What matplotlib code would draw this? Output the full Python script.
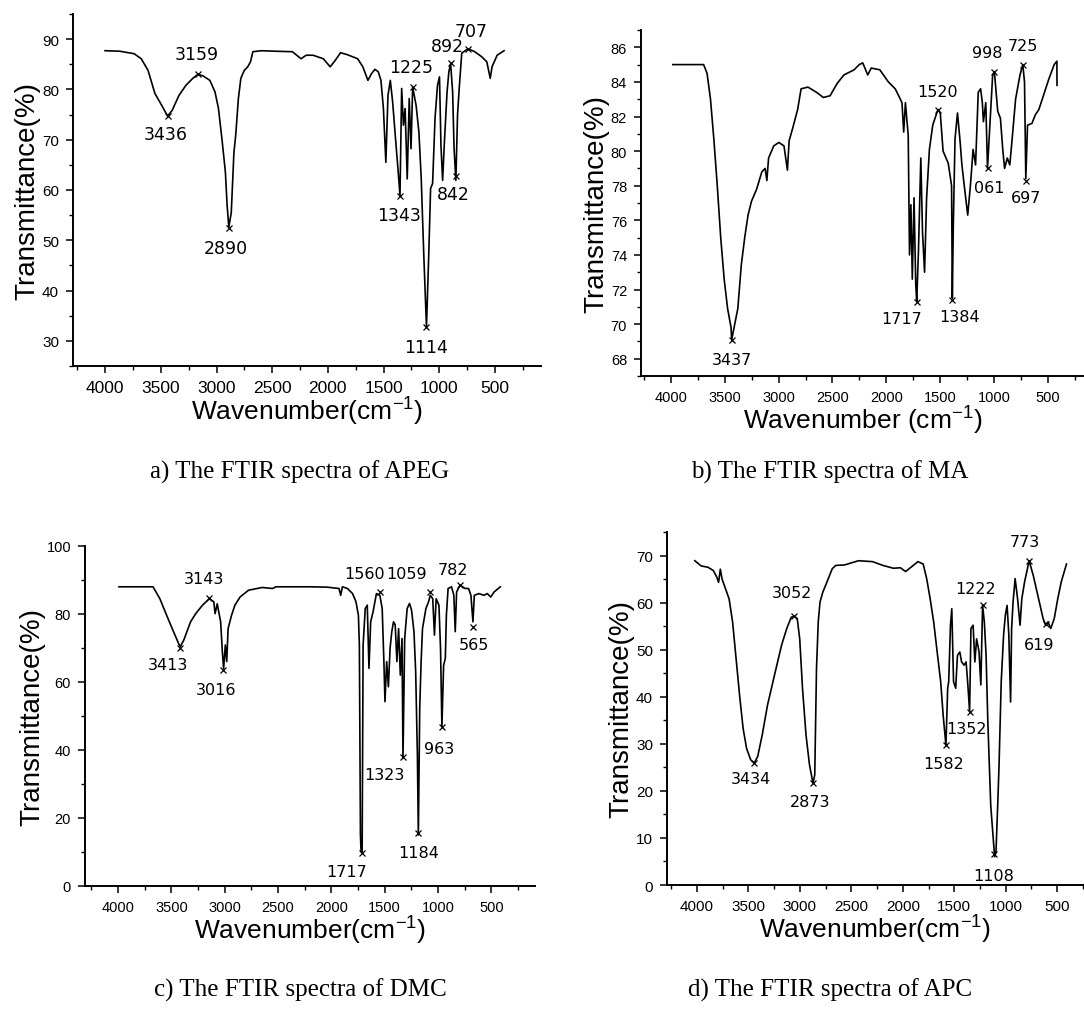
import matplotlib
matplotlib.use("Agg")
import matplotlib.pyplot as plt
from matplotlib.ticker import MultipleLocator

plt.rcParams["font.family"] = ["Liberation Sans", "DejaVu Sans"]
plt.rcParams["mathtext.fontset"] = "custom"
plt.rcParams["mathtext.rm"] = "Liberation Sans"
plt.rcParams["mathtext.default"] = "regular"

# ---- a) APEG spectrum (wavenumber cm-1, transmittance %)
apeg_wn = [4002, 3870, 3740, 3677, 3616, 3554, 3492, 3440, 3400, 3338, 3276, 3214,
           3168, 3122, 3060, 3014, 2983, 2952, 2921, 2905, 2890, 2868, 2844, 2828,
           2804, 2782, 2751, 2720, 2695, 2674, 2597, 2473, 2319, 2241, 2195, 2133,
           2041, 1979, 1933, 1886, 1824, 1732, 1686, 1640, 1609, 1578, 1547, 1523,
           1501, 1479, 1460, 1439, 1418, 1392, 1368, 1352, 1337, 1321, 1306, 1287,
           1269, 1253, 1238, 1207, 1182, 1161, 1139, 1114, 1093, 1077, 1059, 1037,
           1015, 997, 984, 969, 953, 929, 913, 897, 879, 866, 850, 835, 819, 797,
           742, 680, 618, 572, 541, 525, 479, 417]
apeg_t = [87.7, 87.6, 87.1, 86.1, 83.8, 79.2, 76.8, 74.7, 75.8, 78.8, 80.8, 82.2,
          83.0, 82.7, 81.8, 79.5, 76.2, 70.2, 63.6, 56.9, 52.6, 55.5, 67.5, 70.9,
          78.2, 82.2, 83.8, 84.5, 85.5, 87.5, 87.7, 87.6, 87.5, 86.1, 86.8, 86.8,
          86.1, 84.5, 85.8, 87.3, 86.9, 86.1, 84.5, 81.8, 83.1, 84.0, 83.5, 81.8,
          76.2, 65.5, 78.8, 81.8, 77.5, 70.2, 63.6, 58.9, 80.2, 72.9, 76.2, 62.2,
          78.2, 68.2, 80.5, 76.8, 71.5, 62.2, 47.6, 32.7, 47.6, 60.3, 61.3, 74.3,
          80.8, 82.5, 68.9, 61.9, 69.5, 79.5, 83.5, 85.1, 79.5, 68.2, 61.9, 74.9,
          80.5, 87.2, 88.1, 87.5, 86.5, 85.5, 82.2, 84.5, 86.8, 87.7]
apeg_labels = ["3436", "3159", "2890", "1343", "1225", "1114", "892", "842", "707"]
apeg_pk_wn = [3436, 3168, 2890, 1352, 1238, 1114, 897, 850, 742]
apeg_pk_t = [74.7, 83.0, 52.4, 58.9, 80.5, 32.7, 85.3, 62.8, 88.1]

# ---- b) MA spectrum
ma_wn = [3984, 3698, 3666, 3634, 3603, 3571, 3539, 3507, 3475, 3443, 3437, 3380,
         3348, 3316, 3285, 3253, 3205, 3157, 3126, 3110, 3094, 3046, 2999, 2951,
         2919, 2903, 2871, 2824, 2792, 2728, 2649, 2585, 2522, 2458, 2394, 2299,
         2251, 2219, 2172, 2140, 2060, 1981, 1917, 1885, 1854, 1838, 1822, 1796,
         1784, 1771, 1758, 1742, 1726, 1717, 1701, 1679, 1663, 1644, 1625, 1599,
         1568, 1520, 1498, 1472, 1424, 1393, 1386, 1377, 1361, 1338, 1313, 1297,
         1275, 1243, 1218, 1193, 1170, 1145, 1123, 1107, 1097, 1075, 1059, 1037,
         1011, 995, 964, 939, 916, 900, 875, 852, 830, 798, 757, 731, 715, 703,
         687, 646, 614, 582, 550, 487, 439, 414, 413]
ma_t = [85.0, 85.0, 84.5, 83.0, 80.7, 78.0, 75.0, 72.6, 70.9, 69.8, 69.1, 70.9,
        73.4, 75.0, 76.3, 77.1, 77.8, 78.8, 79.0, 78.3, 79.6, 80.3, 80.5, 80.3,
        78.9, 80.6, 81.3, 82.4, 83.6, 83.7, 83.4, 83.1, 83.2, 83.9, 84.4, 84.7,
        85.0, 85.1, 84.4, 84.8, 84.7, 84.0, 83.6, 83.2, 82.8, 81.1, 82.8, 80.9,
        74.0, 76.9, 72.6, 77.3, 72.3, 71.3, 74.2, 79.6, 75.3, 73.0, 77.3, 80.1,
        81.5, 82.4, 82.2, 80.0, 79.3, 78.0, 71.5, 75.7, 80.7, 82.2, 80.5, 79.2,
        78.0, 76.3, 78.0, 80.1, 79.2, 83.4, 83.6, 82.8, 81.7, 82.8, 79.0, 81.5,
        84.4, 84.6, 82.3, 81.9, 80.0, 79.0, 79.6, 79.2, 80.7, 83.0, 84.4, 85.0,
        84.0, 78.4, 81.5, 81.6, 82.1, 82.4, 83.0, 84.2, 85.0, 85.2, 83.8]
ma_labels = ["3437", "1717", "1384", "1520", "061", "998", "725", "697"]
ma_pk_wn = [3437, 1717, 1393, 1520, 1059, 995, 731, 703]
ma_pk_t = [69.1, 71.3, 71.4, 82.4, 79.0, 84.6, 85.0, 78.3]

# ---- c) DMC spectrum
dmc_wn = [3991, 3672, 3608, 3544, 3480, 3432, 3416, 3384, 3320, 3272, 3208, 3144,
          3102, 3090, 3070, 3038, 3022, 3010, 2994, 2981, 2968, 2936, 2904, 2856,
          2776, 2648, 2552, 2520, 2200, 2040, 1928, 1912, 1896, 1849, 1801, 1769,
          1746, 1737, 1727, 1721, 1711, 1702, 1682, 1663, 1647, 1631, 1609, 1577,
          1545, 1523, 1507, 1497, 1481, 1465, 1449, 1433, 1417, 1401, 1385, 1369,
          1353, 1337, 1328, 1312, 1289, 1267, 1248, 1225, 1209, 1193, 1184, 1171,
          1158, 1145, 1113, 1088, 1072, 1049, 1033, 1017, 991, 976, 963, 947, 931,
          921, 905, 873, 851, 838, 825, 793, 745, 713, 691, 672, 659, 617, 569,
          537, 505, 473, 415]
dmc_t = [88.0, 88.0, 84.5, 79.6, 74.8, 71.3, 70.4, 72.3, 77.7, 80.1, 82.6, 84.5,
         83.6, 80.1, 83.0, 77.7, 68.9, 64.0, 70.9, 66.0, 75.7, 79.6, 82.6, 85.0,
         87.0, 87.8, 87.5, 88.0, 88.0, 87.9, 87.5, 85.5, 88.0, 87.5, 86.0, 83.6,
         79.6, 70.8, 15.0, 10.0, 10.0, 70.8, 81.6, 82.6, 64.0, 77.7, 80.6, 86.0,
         85.5, 81.6, 66.0, 54.2, 66.0, 58.6, 69.9, 74.8, 77.7, 76.8, 66.0, 75.7,
         62.0, 72.8, 37.6, 72.8, 81.6, 83.1, 81.2, 74.8, 63.0, 38.6, 15.0, 52.3,
         66.0, 75.7, 81.6, 83.6, 85.5, 84.5, 73.8, 84.5, 82.6, 69.9, 46.9, 64.9,
         66.9, 79.6, 87.5, 88.0, 85.5, 74.8, 86.5, 88.5, 87.5, 87.5, 85.5, 77.7,
         85.5, 86.0, 85.5, 86.0, 85.0, 86.5, 88.0]
dmc_labels = ["3413", "3143", "3016", "1717", "1560", "1323", "1184", "1059",
              "963", "782", "565"]
dmc_pk_wn = [3416, 3144, 3016, 1716, 1545, 1328, 1184, 1072, 963, 793, 672]
dmc_pk_t = [70.1, 84.7, 63.5, 9.6, 86.5, 37.8, 15.7, 86.5, 46.9, 88.5, 76.2]

# ---- d) APC spectrum
apc_wn = [4020, 3959, 3891, 3840, 3806, 3789, 3772, 3755, 3721, 3687, 3653, 3619,
          3585, 3551, 3517, 3477, 3443, 3409, 3365, 3314, 3246, 3178, 3127, 3083,
          3052, 3025, 3001, 2974, 2940, 2906, 2872, 2855, 2838, 2821, 2804, 2777,
          2736, 2685, 2651, 2566, 2430, 2294, 2193, 2091, 2023, 1972, 1921, 1853,
          1802, 1768, 1734, 1700, 1666, 1632, 1608, 1581, 1564, 1554, 1537, 1524,
          1507, 1486, 1469, 1446, 1429, 1405, 1385, 1368, 1351, 1338, 1317, 1300,
          1283, 1259, 1242, 1225, 1208, 1191, 1174, 1146, 1129, 1108, 1095, 1078,
          1065, 1044, 1021, 1004, 987, 970, 953, 943, 929, 909, 885, 861, 844,
          817, 773, 732, 681, 637, 613, 590, 563, 529, 495, 461, 410]
apc_t = [68.9, 67.8, 67.5, 66.8, 65.4, 64.3, 67.1, 65.0, 62.9, 60.8, 55.9, 48.1,
         40.3, 33.3, 29.0, 26.6, 25.9, 27.3, 31.9, 38.2, 44.6, 50.9, 54.5, 56.9,
         57.1, 56.6, 52.3, 41.8, 31.9, 25.5, 21.6, 23.4, 46.0, 55.9, 60.1, 62.2,
         64.4, 67.2, 67.9, 68.0, 68.9, 68.7, 67.9, 67.3, 67.4, 66.6, 67.5, 68.7,
         68.2, 65.1, 60.8, 55.9, 49.5, 43.2, 36.1, 29.7, 41.8, 43.2, 55.2, 58.7,
         43.2, 41.8, 48.8, 49.5, 47.4, 46.7, 47.4, 42.5, 36.8, 54.5, 55.2, 47.4,
         52.3, 49.5, 42.5, 59.4, 55.9, 48.8, 34.7, 17.0, 12.0, 6.0, 7.0, 17.0,
         25.5, 43.2, 53.1, 57.3, 59.4, 53.1, 38.9, 54.5, 60.1, 65.1, 60.8, 55.2,
         60.8, 64.4, 68.9, 65.7, 60.8, 56.6, 55.2, 55.9, 54.5, 56.6, 60.8, 64.4,
         68.2]
apc_labels = ["3434", "3052", "2873", "1582", "1352", "1222", "1108", "773", "619"]
apc_pk_wn = [3443, 3052, 2872, 1581, 1351, 1225, 1115, 773, 613]
apc_pk_t = [25.9, 57.1, 21.6, 29.7, 36.8, 59.4, 6.5, 68.9, 55.5]

captions = ["a) The FTIR spectra of APEG", "b) The FTIR spectra of MA",
            "c) The FTIR spectra of DMC", "d) The FTIR spectra of APC"]

W, H = 1084, 1012
fig = plt.figure(figsize=(W / 100, H / 100), dpi=100)


def px_axes(left, top, right, bottom):
    return fig.add_axes([left / W, 1 - bottom / H, (right - left) / W, (bottom - top) / H])


def style(ax, xlim, ylim, ymaj, ymin, tick_fs, xlab, xtick_family=None):
    ax.set_xlim(*xlim)
    ax.set_ylim(*ylim)
    ax.xaxis.set_major_locator(MultipleLocator(500))
    ax.xaxis.set_minor_locator(MultipleLocator(250))
    ax.yaxis.set_major_locator(MultipleLocator(ymaj))
    ax.yaxis.set_minor_locator(MultipleLocator(ymin))
    for s in ("top", "right"):
        ax.spines[s].set_visible(False)
    for s in ("left", "bottom"):
        ax.spines[s].set_linewidth(1.4)
    ax.tick_params(which="major", direction="out", length=5, width=1.1,
                   labelsize=tick_fs, pad=5)
    ax.tick_params(which="minor", direction="out", length=3, width=1.0)
    ax.set_xticks([t for t in range(500, 4001, 500)])
    if xtick_family:
        for lab in ax.get_xticklabels():
            lab.set_family(xtick_family)
            lab.set_fontsize(tick_fs + 1.5)
    ax.set_xlabel(xlab, fontsize=19, labelpad=0)
    ax.set_ylabel("Transmittance(%)", fontsize=20, labelpad=1)


def peaks(ax, labels, wn, t, offs, fs):
    ax.plot(wn, t, "x", color="black", ms=4.5, mew=0.9)
    for lab, x, y, (dx, dy) in zip(labels, wn, t, offs):
        ax.annotate(lab, (x, y), xytext=(dx, dy), textcoords="offset points",
                    ha="center", va="center", fontsize=fs, family="DejaVu Sans")


# a) APEG
ax = px_axes(73, 15, 541, 367)
ax.plot(apeg_wn, apeg_t, color="black", lw=1.2)
style(ax, (4290, 85), (25, 95), 10, 5, 11, "Wavenumber(cm$^{-1}$)",
      xtick_family=["Liberation Sans Narrow", "Liberation Sans"])
peaks(ax, apeg_labels, apeg_pk_wn, apeg_pk_t,
      [(-2, -13), (-1, 15), (-2.5, -14), (-1, -14), (-1, 14), (0, -14),
       (-2.5, 12), (-2, -13), (2, 13)], 12.5)

# b) MA
ax = px_axes(641, 31, 1084, 377)
ax.plot(ma_wn, ma_t, color="black", lw=1.2)
style(ax, (4280, 162), (67, 87), 2, 1, 10.5, "Wavenumber (cm$^{-1}$)")
peaks(ax, ma_labels, ma_pk_wn, ma_pk_t,
      [(0, -14), (-11, -12), (6, -12), (0, 13), (1, -14), (-5, 14), (0, 14),
       (0, -12)], 11.5)

# c) DMC
ax = px_axes(85, 547, 535, 887)
ax.plot(dmc_wn, dmc_t, color="black", lw=1.2)
style(ax, (4310, 90), (0, 100), 20, 10, 10.5, "Wavenumber(cm$^{-1}$)")
peaks(ax, dmc_labels, dmc_pk_wn, dmc_pk_t,
      [(-9, -12), (-4, 14), (-5, -14), (-11, -13), (-11, 13), (-13, -12),
       (0, -14), (-17, 13), (-2, -16), (-5, 11), (1, -13)], 11.5)

# d) APC
ax = px_axes(667, 533, 1084, 886)
ax.plot(apc_wn, apc_t, color="black", lw=1.2)
style(ax, (4290, 240), (0, 75), 10, 5, 11, "Wavenumber(cm$^{-1}$)")
peaks(ax, apc_labels, apc_pk_wn, apc_pk_t,
      [(-2, -11), (-2, 17), (-2, -13), (-2, -13), (-2, -12), (-5, 12), (0, -15),
       (-3, 14), (-5, -15)], 11.5)

for cap, (cx, cy) in zip(captions, [(300, 472), (830, 472), (300, 990), (830, 990)]):
    fig.text(cx / W, 1 - cy / H, cap, ha="center", va="center", fontsize=18,
             family="Liberation Serif")

fig.savefig("out.png", dpi=100)
